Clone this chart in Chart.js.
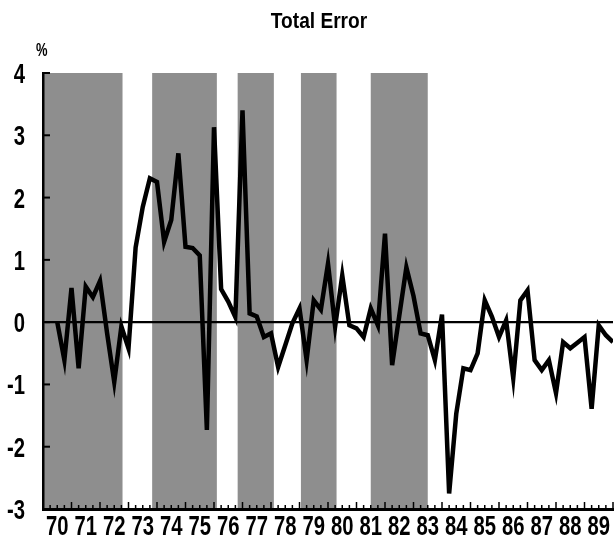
<!DOCTYPE html>
<html>
<head>
<meta charset="utf-8">
<script src="https://cdn.jsdelivr.net/npm/chart.js@4.4.0/dist/chart.umd.min.js"></script>
<style>
  body { margin: 0; background: #fff; }
</style>
</head>
<body>
<canvas id="chartTotalError" width="615" height="543"></canvas>
<script>
// Erreur totale, données trimestrielles (en %)
const premierTrimestre = 1970.5;
const erreurTotale = [
    0.00, -0.61, 0.55, -0.74, 0.57, 0.40, 0.66, -0.18, -0.96, -0.07,
    -0.42, 1.20, 1.85, 2.31, 2.25, 1.29, 1.64, 2.71, 1.21, 1.19,
    1.07, -1.73, 3.13, 0.53, 0.33, 0.08, 3.40, 0.14, 0.09, -0.24,
    -0.18, -0.72, -0.37, -0.02, 0.22, -0.61, 0.35, 0.20, 0.94, -0.07,
    0.75, -0.05, -0.10, -0.24, 0.22, -0.05, 1.42, -0.69, 0.10, 0.88,
    0.42, -0.18, -0.21, -0.61, 0.12, -2.75, -1.47, -0.74, -0.77, -0.50,
    0.35, 0.09, -0.24, 0.03, -0.90, 0.35, 0.51, -0.61, -0.77, -0.61,
    -1.14, -0.32, -0.42, -0.33, -0.24, -1.39, -0.05, -0.21, -0.32
];
const anneesLabels = ['70', '71', '72', '73', '74', '75', '76', '77', '78', '79',
    '80', '81', '82', '83', '84', '85', '86', '87', '88', '89'];
const yGraduations = [-3, -2, -1, 0, 1, 2, 3, 4];

// Périodes grisées (début / fin, en années)
const periodesDebut = [1970.0, 1973.83, 1976.83, 1979.05, 1981.5];
const periodesFin = [1972.79, 1976.1, 1978.1, 1980.3, 1983.5];

const police = "'Liberation Sans', Arial, sans-serif";

const points = erreurTotale.map((v, i) => ({ x: premierTrimestre + i * 0.25, y: v }));

// Texte condensé (la police d'origine est une Helvetica étroite)
function texteEtroit(ctx, texte, x, y, align, echelle) {
    ctx.save();
    ctx.translate(x, y);
    ctx.scale(echelle, 1);
    ctx.textAlign = align;
    ctx.fillText(texte, 0, 0);
    ctx.restore();
}

// Bandes grises derrière la courbe
const bandesGrises = {
    id: 'bandesGrises',
    beforeDraw(chart) {
        const { ctx, chartArea, scales } = chart;
        ctx.save();
        ctx.fillStyle = '#8e8e8e';
        periodesDebut.forEach((debut, i) => {
            const x1 = scales.x.getPixelForValue(debut);
            const x2 = scales.x.getPixelForValue(periodesFin[i]);
            ctx.fillRect(x1, chartArea.top, x2 - x1, chartArea.bottom - chartArea.top);
        });
        ctx.restore();
    }
};

// Graduations vers l'intérieur, étiquettes, titre et unité
const habillage = {
    id: 'habillage',
    afterDraw(chart) {
        const { ctx, chartArea, scales } = chart;
        ctx.save();
        ctx.strokeStyle = '#000';
        ctx.lineWidth = 2;
        yGraduations.forEach(v => {
            const y = scales.y.getPixelForValue(v);
            ctx.beginPath();
            ctx.moveTo(chartArea.left, y);
            ctx.lineTo(chartArea.left + 7, y);
            ctx.stroke();
        });
        ctx.lineWidth = 1.5;
        for (let q = 0; q <= 80; q++) {
            const x = scales.x.getPixelForValue(1970 + q * 0.25);
            const longueur = q % 4 === 0 ? 7 : 4;
            ctx.beginPath();
            ctx.moveTo(x, chartArea.bottom);
            ctx.lineTo(x, chartArea.bottom - longueur);
            ctx.stroke();
        }

        ctx.fillStyle = '#000';
        ctx.textBaseline = 'alphabetic';
        ctx.font = 'bold 27px ' + police;
        // étiquettes des années, centrées dans chaque année
        anneesLabels.forEach((a, i) => {
            const x = scales.x.getPixelForValue(1970.5 + i);
            texteEtroit(ctx, a, x, 535, 'center', 0.75);
        });
        // étiquettes de l'axe Y
        yGraduations.forEach(v => {
            const y = scales.y.getPixelForValue(v);
            texteEtroit(ctx, String(v), 25, y + 10, 'right', 0.75);
        });

        ctx.font = 'bold 22px ' + police;
        texteEtroit(ctx, 'Total Error', 319, 28, 'center', 0.87);
        ctx.font = 'bold 18px ' + police;
        texteEtroit(ctx, '%', 36, 56, 'left', 0.72);
        ctx.restore();
    }
};

new Chart(document.getElementById('chartTotalError'), {
    type: 'line',
    data: {
        datasets: [{
            label: 'Total Error',
            data: points,
            borderColor: '#000',
            borderWidth: 4.5,
            pointRadius: 0,
            tension: 0,
            fill: false
        }]
    },
    options: {
        responsive: false,
        animation: false,
        devicePixelRatio: 1,
        layout: { padding: { top: 73, right: 2, left: 0, bottom: 0 } },
        scales: {
            x: {
                type: 'linear',
                min: 1970,
                max: 1990,
                afterFit: scale => { scale.height = 34; },
                grid: { display: false },
                border: { display: true, color: '#000', width: 3 },
                ticks: { display: false }
            },
            y: {
                min: -3,
                max: 4,
                afterFit: scale => { scale.width = 43; },
                grid: {
                    drawTicks: false,
                    color: c => (c.tick && c.tick.value === 0 ? '#000' : 'transparent'),
                    lineWidth: 2.2
                },
                border: { display: true, color: '#000', width: 2.5 },
                ticks: { stepSize: 1, display: false }
            }
        },
        plugins: {
            legend: { display: false },
            tooltip: { enabled: false }
        }
    },
    plugins: [bandesGrises, habillage]
});
</script>
</body>
</html>
